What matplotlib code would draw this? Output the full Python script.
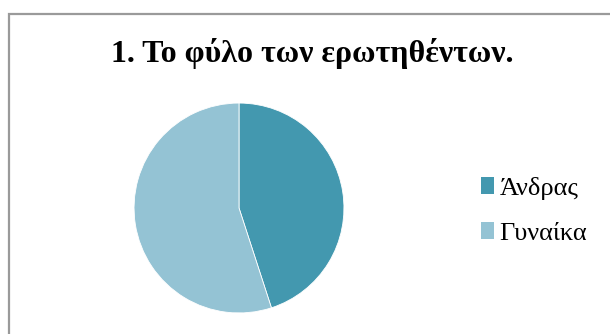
import matplotlib.pyplot as plt
from matplotlib.patches import Patch, Rectangle

# data
labels = ["Άνδρας", "Γυναίκα"]
shares = [45, 55]
colors = ["#4398AF", "#94C3D4"]
title = "1. Το φύλο των ερωτηθέντων."

W, H = 610, 334
fig = plt.figure(figsize=(W / 100, H / 100), dpi=100)
fig.patch.set_facecolor("white")

# chart frame (cut off at right/bottom like the source)
fig.patches.append(Rectangle((8.5 / W, -0.1), 1.2, 1.1 - 14.5 / H,
                             transform=fig.transFigure, fill=False,
                             edgecolor="#9a9a9a", linewidth=1.6))

# pie, centre (239, 208) radius 106 in pixels from top-left
cx, cy, r = 239, H - 208, 106
ax = fig.add_axes([(cx - r) / W, (cy - r) / H, 2 * r / W, 2 * r / H])
ax.pie(shares, colors=colors, startangle=90, counterclock=False,
       radius=1.0, wedgeprops=dict(edgecolor="white", linewidth=0.6))
ax.set_xlim(-1.01, 1.01)
ax.set_ylim(-1.01, 1.01)
ax.set_aspect("equal")
ax.axis("off")

fig.text(312 / W, (H - 62) / H, title, ha="center", va="baseline",
         fontsize=23, fontweight="bold", family="Liberation Serif")

handles = [Patch(facecolor=c, edgecolor="none") for c in colors]
fig.legend(handles, labels, loc="center left",
           bbox_to_anchor=(481 / W, (H - 211) / H),
           frameon=False, borderpad=0, borderaxespad=0,
           handlelength=0.5, handleheight=0.6, handletextpad=0.2,
           labelspacing=0.85,
           prop=dict(family="Liberation Serif", size=19))

fig.savefig("out.png", dpi=100)
